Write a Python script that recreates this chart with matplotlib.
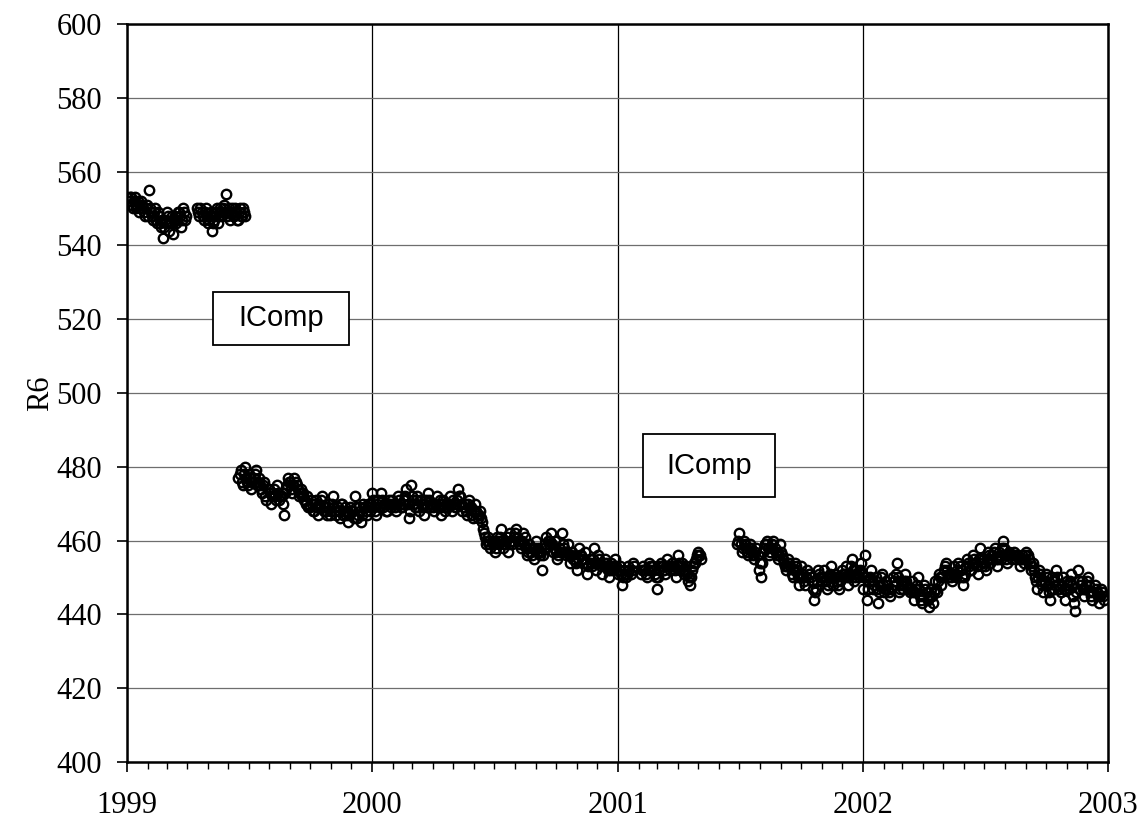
import pandas as pd
import matplotlib
matplotlib.use("Agg")
import matplotlib.pyplot as plt
import matplotlib.dates as mdates
from matplotlib.patches import Rectangle

# R6 readings for each continuous stretch; the *_mid lists are the readings
# that fall half a sampling step after the matching main reading
seg_a_start = "1999-01-01"
seg_a = [553, 552, 553, 550, 553, 551, 549, 552, 550, 548,
         551, 555, 549, 547, 550, 546, 548, 545, 542, 547,
         549, 544, 546, 543, 548, 547, 549, 545, 550, 547]
seg_a_mid = [552, 553, 551, 552, 550, 552, 550, 551, 549, 550,
             548, 550, 548, 549, 547, 549, 546, 547, 545, 546,
             548, 546, 548, 547, 546, 549, 548, 547, 549, 548]

seg_b_start = "1999-04-16"
seg_b = [550, 548, 549, 547, 550, 546, 548, 544, 547, 549,
         546, 550, 548, 551, 554, 549, 547, 550, 548, 549,
         547, 550, 548, 549]
seg_b_mid = [549, 550, 548, 549, 548, 547, 549, 546, 548, 550,
             548, 549, 550, 549, 548, 550, 549, 548, 550, 547,
             549, 548, 550, 548]

seg_c_start = "1999-06-16"
seg_c = [477, 479, 475, 480, 476, 478, 474, 477, 479, 476,
         475, 473, 476, 471, 474, 470, 473, 472, 475, 471,
         472, 467, 474, 477, 476, 473, 477, 475, 472, 474,
         473, 471, 472, 469, 470, 468, 471, 467, 469, 472,
         469, 467, 470, 468, 472, 468, 469, 466, 470, 468,
         467, 465, 469, 468, 472, 466, 469, 465, 470, 468,
         470, 468, 473, 469, 467, 471, 473, 469, 470, 468,
         471, 469, 470, 468, 472, 470, 469, 471, 474, 466,
         475, 471, 469, 472, 468, 470, 467, 471, 473, 469,
         470, 468, 472, 469, 467, 471, 468, 470, 472, 468,
         470, 469, 474, 472, 468, 470, 467, 471, 469, 466,
         470, 466, 468, 465, 462, 459, 461, 458, 460, 457,
         461, 459, 463, 458, 460, 457, 462, 459, 461, 463,
         460, 458, 462, 461, 456, 459, 457, 455, 460, 458,
         456, 452, 458, 461, 459, 462, 457, 460, 455, 458,
         462, 458, 456, 459, 454, 457, 455, 452, 458, 456,
         454, 457, 451, 455, 453, 458, 452, 456, 454, 451,
         455, 453, 450, 454, 452, 455, 451, 453, 448, 452,
         450, 453, 451, 454]
seg_c_mid = [478, 476, 478, 477, 475, 477, 476, 478, 475, 477,
             474, 475, 472, 474, 473, 472, 474, 471, 473, 472,
             470, 473, 475, 476, 474, 475, 476, 474, 473, 472,
             471, 470, 469, 471, 468, 470, 469, 470, 471, 468,
             468, 469, 467, 470, 469, 467, 468, 470, 467, 469,
             468, 467, 468, 466, 469, 467, 468, 467, 469, 467,
             469, 470, 471, 468, 470, 469, 471, 470, 468, 470,
             470, 471, 469, 470, 471, 469, 470, 472, 470, 468,
             472, 470, 471, 469, 471, 469, 470, 469, 471, 470,
             469, 470, 469, 471, 470, 469, 470, 469, 470, 471,
             469, 471, 472, 470, 469, 468, 470, 469, 467, 468,
             468, 467, 466, 463, 461, 460, 459, 460, 459, 458,
             460, 461, 460, 459, 461, 459, 460, 460, 462, 461,
             459, 460, 459, 458, 457, 458, 456, 458, 457, 457,
             457, 456, 459, 460, 460, 459, 458, 457, 456, 457,
             459, 457, 457, 456, 456, 455, 454, 455, 456, 455,
             455, 454, 453, 454, 455, 454, 454, 455, 453, 453,
             454, 452, 452, 453, 453, 453, 452, 451, 450, 451,
             451, 452, 452, 453]

seg_d_start = "2001-02-05"
seg_d = [451, 453, 452, 450, 454, 452, 453, 451, 447, 452,
         454, 453, 451, 455, 452, 454, 453, 450, 456, 452,
         454, 451, 453, 449, 448, 452, 454, 455, 457, 456]
seg_d_mid = [452, 452, 451, 452, 453, 453, 452, 450, 450, 453,
             453, 452, 453, 453, 453, 453, 452, 453, 454, 453,
             452, 452, 451, 450, 450, 453, 454, 456, 456, 455]

seg_e_start = "2001-06-28"
seg_e = [459, 462, 457, 460, 458, 456, 459, 457, 455, 458,
         452, 450, 457, 459, 460, 456, 458, 460, 457, 455,
         459, 456, 454, 452, 455, 453, 450, 454, 452, 448,
         453, 450, 448, 452, 451, 449, 444, 447, 452, 450,
         449, 452, 447, 450, 453, 448, 451, 449, 447, 452,
         450, 453, 448, 451, 455, 449, 452, 450, 454, 447,
         456, 444, 449, 452, 447, 450, 443, 448, 451, 446,
         449, 447, 445, 450, 448, 454, 446, 449, 447, 451,
         448, 446, 449, 444, 447, 450, 445, 443, 448, 446,
         442, 447, 443, 449, 446, 451, 448, 452, 454, 450,
         451, 449, 453, 450, 454, 452, 448, 451, 455, 453,
         452, 456, 454, 451, 458, 453, 455, 452, 457, 454,
         456, 458, 453, 457, 455, 460, 456, 454, 457, 455,
         457, 455, 456, 453, 456, 454, 457, 455, 452, 454,
         450, 447, 452, 449, 446, 451, 448, 444, 450, 447,
         452, 448, 446, 450, 444, 449, 447, 451, 445, 441,
         452, 447, 449, 445, 448, 450, 446, 444, 448, 446,
         443, 447, 445]
seg_e_mid = [460, 459, 458, 459, 457, 458, 458, 456, 457, 456,
             454, 454, 458, 459, 458, 457, 459, 458, 456, 456,
             457, 455, 453, 453, 454, 451, 452, 453, 450, 450,
             451, 449, 450, 451, 450, 447, 446, 449, 451, 450,
             450, 449, 448, 451, 450, 450, 450, 448, 449, 451,
             451, 450, 450, 453, 452, 450, 451, 452, 451, 450,
             450, 447, 450, 449, 448, 447, 446, 450, 448, 447,
             448, 446, 447, 449, 451, 450, 447, 448, 449, 449,
             447, 447, 446, 446, 448, 447, 444, 445, 447, 444,
             445, 445, 446, 447, 449, 450, 450, 453, 452, 451,
             450, 451, 451, 452, 453, 450, 450, 453, 454, 452,
             454, 455, 453, 455, 455, 454, 453, 455, 456, 455,
             457, 455, 455, 456, 458, 458, 455, 456, 456, 456,
             456, 456, 455, 455, 455, 456, 456, 454, 453, 452,
             449, 450, 451, 448, 449, 450, 446, 447, 449, 449,
             450, 447, 448, 447, 447, 448, 449, 448, 443, 446,
             449, 448, 447, 447, 449, 448, 445, 446, 447, 445,
             445, 446, 444]

# (start, sampling step in hours, values, mid-step values)
segments = [(seg_a_start, 72, seg_a, seg_a_mid),
            (seg_b_start, 72, seg_b, seg_b_mid),
            (seg_c_start, 77, seg_c, seg_c_mid),
            (seg_d_start, 72, seg_d, seg_d_mid),
            (seg_e_start, 76, seg_e, seg_e_mid)]

plt.rcParams['font.family'] = ['Liberation Serif', 'DejaVu Serif']

fig = plt.figure(figsize=(11.46, 8.18), dpi=100)
ax = fig.add_axes([0.1108, 0.0685, 0.856, 0.9022])

marker_style = dict(linestyle="none", marker="o", markersize=6.8, markerfacecolor="none",
                    markeredgecolor="black", markeredgewidth=1.7, zorder=3)
for start, step, vals, vals_mid in segments:
    dates = pd.date_range(start, periods=len(vals), freq=f"{step}h")
    ax.plot(dates, vals, **marker_style)
    ax.plot(dates + pd.Timedelta(hours=step / 2), vals_mid, **marker_style)

ax.set_xlim(pd.Timestamp("1999-01-01"), pd.Timestamp("2003-01-01"))
ax.set_ylim(400, 600)
ax.set_yticks(range(400, 601, 20))
ax.xaxis.set_major_locator(mdates.YearLocator())
ax.xaxis.set_major_formatter(mdates.DateFormatter("%Y"))
ax.xaxis.set_minor_locator(mdates.MonthLocator())

ax.grid(True, axis="x", which="major", color="black", linewidth=0.9)
ax.grid(True, axis="y", which="major", color="#6e6e6e", linewidth=0.9)
ax.set_axisbelow(True)

ax.tick_params(axis="both", which="major", direction="out", length=7, width=1.2,
               labelsize=22, colors="black")
ax.tick_params(axis="x", which="minor", direction="out", length=5, width=1)
ax.tick_params(axis="x", which="major", pad=14)
ax.tick_params(axis="y", which="major", pad=11)
for side in ["left", "bottom", "right", "top"]:
    ax.spines[side].set_linewidth(1.8)

ax.set_ylabel("R6", fontsize=22, labelpad=1)

# label boxes, in axes fractions
boxes = [(0.0877, 0.565, 0.1386, 0.0719), (0.526, 0.359, 0.1346, 0.0854)]
for x0, y0, w, h in boxes:
    ax.add_patch(Rectangle((x0, y0), w, h, transform=ax.transAxes, facecolor="white",
                           edgecolor="black", linewidth=1.3, zorder=4))
    ax.text(x0 + w / 2, y0 + h / 2, "IComp", transform=ax.transAxes, fontsize=21,
            family="Liberation Sans", ha="center", va="center", zorder=5)

fig.savefig("out.png", dpi=100)
